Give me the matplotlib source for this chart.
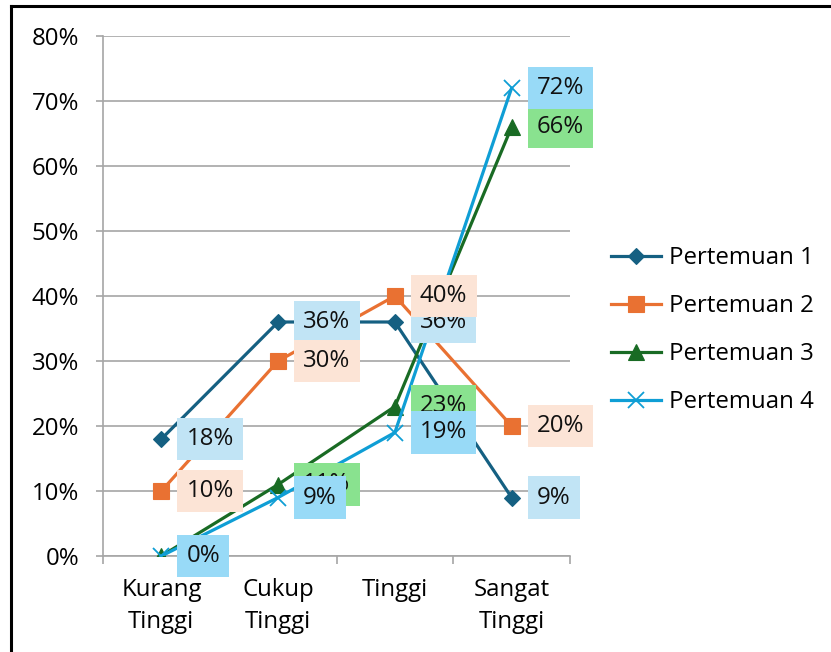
import matplotlib
matplotlib.use("Agg")
import matplotlib.pyplot as plt
from matplotlib.lines import Line2D

categories = ["Kurang\nTinggi", "Cukup\nTinggi", "Tinggi", "Sangat\nTinggi"]
series_names = ["Pertemuan 1", "Pertemuan 2", "Pertemuan 3", "Pertemuan 4"]
p1 = [18, 36, 36, 9]
p2 = [10, 30, 40, 20]
p3 = [0, 11, 23, 66]
p4 = [0, 9, 19, 72]
values = [p1, p2, p3, p4]
yticks = [0, 10, 20, 30, 40, 50, 60, 70, 80]

colors = ["#156082", "#E97132", "#196B24", "#0F9ED5"]
box_colors = ["#C1E4F5", "#FCE4D6", "#89E28F", "#98DAF7"]
markers = ["D", "s", "^", "x"]
msizes = [8.5, 11, 11, 12]

plt.rcParams['font.family'] = ['Open Sans', 'DejaVu Sans']
FS = 17.3

fig = plt.figure(figsize=(8.31, 6.52), dpi=100)
W, H = 831, 652
ax = fig.add_axes([103 / W, 1 - 556 / H, (570 - 103) / W, (556 - 36) / H])

x = [i + 0.5 for i in range(len(categories))]
for k, (vals, c, m, ms) in enumerate(zip(values, colors, markers, msizes)):
    ax.plot(x, vals, color=c, lw=2.3, marker=m, markersize=ms,
            markeredgewidth=1.3 if m == "x" else 0.8, markeredgecolor=c,
            markerfacecolor=c, zorder=3 + k * 0.1, solid_capstyle='round')

PAD = 0.38
for k, vals in enumerate(values):
    for xi, v in zip(x, vals):
        ax.annotate(f"{v}%", (xi, v), xytext=(11.5 + PAD * FS, 0), textcoords="offset points",
                    ha="left", va="center", fontsize=FS, color="#111111",
                    bbox=dict(boxstyle=f"square,pad={PAD}", fc=box_colors[k], ec="none"),
                    zorder=10 + k, annotation_clip=False)

ax.set_xlim(0, 4)
ax.set_ylim(0, 80)
ax.set_yticks(yticks)
ax.set_yticklabels([f"{t}%" for t in yticks], fontsize=FS)
ax.set_xticks([0, 1, 2, 3, 4])
ax.set_xticklabels([])
ax.set_xticks(x, minor=True)
ax.set_xticklabels(categories, minor=True, fontsize=FS, linespacing=1.45)
ax.tick_params(axis="x", which="minor", length=0, pad=16)
ax.tick_params(axis="x", which="major", length=6, color="#A6A6A6", width=1.2)
ax.tick_params(axis="y", length=5, color="#A6A6A6", width=1.2, pad=12)
ax.grid(axis="y", color="#A6A6A6", lw=1.2)
ax.set_axisbelow(True)
for s in ["top", "right"]:
    ax.spines[s].set_visible(False)
for s in ["left", "bottom"]:
    ax.spines[s].set_color("#A6A6A6")
    ax.spines[s].set_linewidth(1.2)

handles = [Line2D([0], [0], color=c, lw=2.3, marker=m, markersize=ms,
                  markeredgewidth=1.3 if m == "x" else 0.8, markeredgecolor=c, markerfacecolor=c)
           for c, m, ms in zip(colors, markers, msizes)]
leg = fig.legend(handles, series_names, loc="center left",
                 bbox_to_anchor=(611 / W, 1 - 330 / H), frameon=False, fontsize=FS,
                 handlelength=2.1, labelspacing=1.0, handletextpad=0.3,
                 borderpad=0, borderaxespad=0)

# outer frame (left and top)
fig.add_artist(Line2D([11 / W, 11 / W], [0, 1 - 6 / H], color="black", lw=2.2, transform=fig.transFigure))
fig.add_artist(Line2D([11 / W, 1], [1 - 6 / H, 1 - 6 / H], color="black", lw=2.2, transform=fig.transFigure))

fig.savefig("out.png", dpi=100)
